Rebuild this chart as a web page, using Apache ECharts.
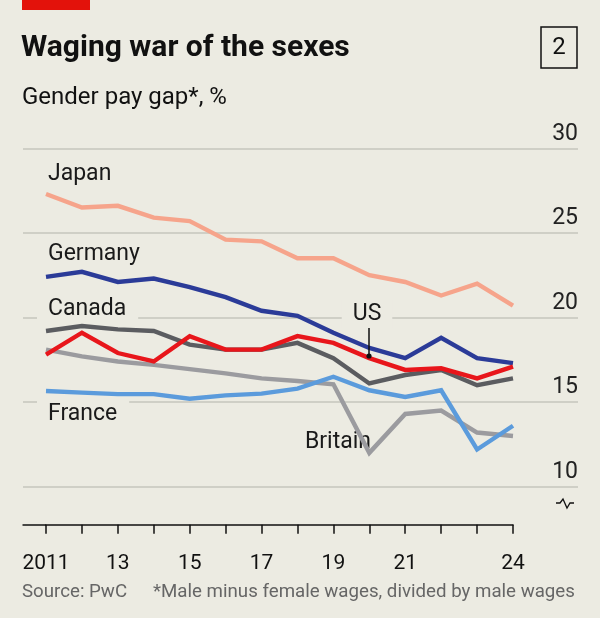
<!DOCTYPE html>
<html><head><meta charset="utf-8">
<script src="https://cdn.jsdelivr.net/npm/echarts@6/dist/echarts.min.js"></script>
<style>html,body{margin:0;padding:0;background:#ecebe2;}#c{width:600px;height:618px;}</style>
</head><body><div id="c"></div>
<script>
const years = [2011,2012,2013,2014,2015,2016,2017,2018,2019,2020,2021,2022,2023,2024];
const japan   = [27.3,26.5,26.6,25.9,25.7,24.6,24.5,23.5,23.5,22.5,22.1,21.3,22.0,20.7];
const germany = [22.4,22.7,22.1,22.3,21.8,21.2,20.4,20.1,19.1,18.2,17.6,18.8,17.6,17.3];
const canada  = [19.2,19.5,19.3,19.2,18.4,18.1,18.1,18.5,17.6,16.1,16.6,16.9,16.0,16.4];
const us      = [17.8,19.1,17.9,17.4,18.9,18.1,18.1,18.9,18.5,17.6,16.9,17.0,16.4,17.1];
const britain = [18.1,17.7,17.4,17.2,16.95,16.7,16.4,16.25,16.05,12.0,14.3,14.5,13.2,13.0];
const france  = [15.66,15.56,15.47,15.47,15.2,15.4,15.5,15.8,16.5,15.7,15.3,15.7,12.2,13.6];
const xTickLabels = {2011:'2011',2013:'13',2015:'15',2017:'17',2019:'19',2021:'21',2024:'24'};
const yTicks = [10,15,20,25,30];

const FONT = 'Roboto, "Liberation Sans", sans-serif';
const BG = '#ecebe2';
function pairs(arr){ return years.map((y,i)=>[y,arr[i]]); }
function line(name, arr, color){
  return {name, type:'line', data:pairs(arr), xAxisIndex:0, yAxisIndex:0, showSymbol:false, z:3,
    lineStyle:{color, width:4.4, cap:'butt', join:'miter'}, silent:true, animation:false};
}
const chart = echarts.init(document.getElementById('c'), null, {renderer:'canvas'});
const gTop = 148.3, gBottom = 618-486.7;
const option = {
  backgroundColor: BG,
  animation:false,
  textStyle:{fontFamily:FONT},
  grid:[
    {left:46, right:87, top:gTop, bottom:gBottom},
    {left:23, right:22, top:gTop, bottom:gBottom}
  ],
  xAxis:[
    {type:'value', gridIndex:0, min:2011, max:2024, interval:1, offset:38,
     axisLine:{show:true, lineStyle:{color:'#111', width:1.5}},
     axisTick:{show:true, length:9, lineStyle:{color:'#111', width:1.5}},
     axisLabel:{show:true, margin:29, fontSize:21, color:'#111', fontFamily:FONT,
       formatter:v=> xTickLabels[v] || ''},
     splitLine:{show:false}},
    {type:'value', gridIndex:1, min:0, max:1, show:false}
  ],
  yAxis:[
    {type:'value', gridIndex:0, min:yTicks[0], max:yTicks[yTicks.length-1], show:false},
    {type:'value', gridIndex:1, min:yTicks[0], max:yTicks[yTicks.length-1], interval:5, position:'right',
     axisLine:{show:false}, axisTick:{show:false},
     splitLine:{show:true, lineStyle:{color:'#c6c6bd', width:1.5}},
     axisLabel:{inside:true, margin:0, fontSize:23, color:'#222', verticalAlign:'bottom',
       padding:[0,0,3,0], fontFamily:FONT}}
  ],
  series:[
    line('Britain', britain, '#9b9b9f'),
    line('Canada', canada, '#5b5c60'),
    line('France', france, '#5b9bdc'),
    line('Germany', germany, '#2b3b98'),
    line('US', us, '#e8161b'),
    line('Japan', japan, '#f6a48b')
  ],
  graphic:[
    {type:'rect', shape:{x:22,y:0,width:68,height:10}, style:{fill:'#e3120b'}, z:10},
    {type:'text', left:21, top:33, style:{text:'Waging war of the sexes', font:'bold 30px '+FONT, fill:'#111'}, z:10},
    {type:'text', left:22, top:86, style:{text:'Gender pay gap*, %', font:'24px '+FONT, fill:'#111'}, z:10},
    {type:'rect', shape:{x:541,y:27,width:36,height:41}, style:{fill:'none', stroke:'#111', lineWidth:1.5}, z:10},
    {type:'text', x:559, y:48, style:{text:'2', font:'24px '+FONT, fill:'#111', align:'center', verticalAlign:'middle'}, z:10},
    {type:'text', left:22, top:583, style:{text:'Source: PwC', font:'18.7px '+FONT, fill:'#666'}, z:10},
    {type:'text', left:153, top:583, style:{text:'*Male minus female wages, divided by male wages', font:'18.7px '+FONT, fill:'#666'}, z:10},
    {type:'text', x:48, y:174, style:{text:'Japan', font:'23px '+FONT, fill:'#1a1a1a', verticalAlign:'middle'}, z:1},
    {type:'text', x:48, y:254, style:{text:'Germany', font:'23px '+FONT, fill:'#1a1a1a', verticalAlign:'middle'}, z:1},
    {type:'text', x:37, y:309, style:{text:'Canada', font:'23px '+FONT, fill:'#1a1a1a', verticalAlign:'middle', backgroundColor:BG, padding:[2,12,2,11]}, z:1},
    {type:'text', x:37, y:414, style:{text:'France', font:'23px '+FONT, fill:'#1a1a1a', verticalAlign:'middle', backgroundColor:BG, padding:[2,12,2,11]}, z:1},
    {type:'text', x:305, y:442, style:{text:'Britain', font:'23px '+FONT, fill:'#1a1a1a', verticalAlign:'middle'}, z:1},
    {type:'text', x:367, y:314, style:{text:'US', font:'23px '+FONT, fill:'#1a1a1a', align:'center', verticalAlign:'middle', backgroundColor:BG, padding:[2,11,2,11]}, z:1},
    {type:'line', shape:{x1:369,y1:328,x2:369,y2:356}, style:{stroke:'#111', lineWidth:1.5}, z:10},
    {type:'circle', shape:{cx:369,cy:356,r:2.6}, style:{fill:'#111'}, z:10},
    {type:'line', shape:{x1:22.5,y1:525,x2:46,y2:525}, style:{stroke:'#111', lineWidth:1.5}, z:10},
    {type:'polyline', shape:{points:[[556,503],[560,503],[563,499],[567,508],[570,503],[574,503]]}, style:{stroke:'#111', lineWidth:1.3, fill:'none'}, z:10}
  ]
};
chart.setOption(option);
</script></body></html>
